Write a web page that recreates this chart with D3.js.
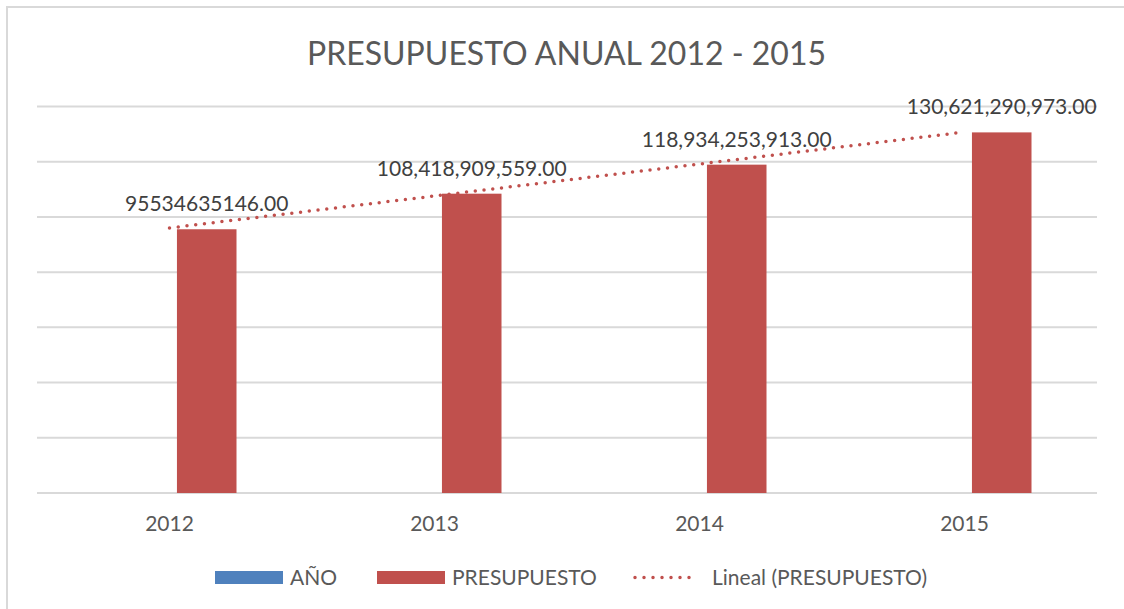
<!DOCTYPE html>
<html>
<head>
<meta charset="utf-8">
<script src="https://cdn.jsdelivr.net/npm/d3@7"></script>
<style>
  html, body { margin: 0; padding: 0; background: #fff; }
  svg { display: block; font-family: Lato, "Open Sans", sans-serif; }
</style>
</head>
<body>
<svg id="chart" width="1124" height="609"></svg>
<script>
// ---- data ----
const title = "PRESUPUESTO ANUAL 2012 - 2015";
const categories = ["2012", "2013", "2014", "2015"];
const seriesNames = ["AÑO", "PRESUPUESTO"];
const anoValues = [2012, 2013, 2014, 2015];
const presupuestoValues = [95534635146, 108418909559, 118934253913, 130621290973];
const presupuestoLabels = ["95534635146.00", "108,418,909,559.00", "118,934,253,913.00", "130,621,290,973.00"];
const yTicks = [0, 20e9, 40e9, 60e9, 80e9, 100e9, 120e9, 140e9];
const trendName = "Lineal (PRESUPUESTO)";

const colors = { "AÑO": "#4F81BD", "PRESUPUESTO": "#C0504D" };
const textColor = "#595959";
const gridColor = "#D9D9D9";

const svg = d3.select("#chart");

// chart border
svg.append("rect").attr("x", 7).attr("y", 7).attr("width", 1130).attr("height", 620)
  .attr("fill", "none").attr("stroke", gridColor).attr("stroke-width", 2);

const plot = { left: 37, right: 1097, top: 106.5, bottom: 493 };

const x0 = d3.scaleBand().domain(categories).range([plot.left, plot.right]).padding(0);
const x1 = d3.scaleBand().domain(seriesNames).range([-67, 67]).paddingInner(0.2);
const y = d3.scaleLinear().domain([0, 140e9]).range([plot.bottom, plot.top]);

// gridlines
svg.append("g").selectAll("line").data(yTicks).join("line")
  .attr("x1", plot.left).attr("x2", plot.right)
  .attr("y1", d => y(d)).attr("y2", d => y(d))
  .attr("stroke", gridColor).attr("stroke-width", 2);

// title
svg.append("text").attr("x", 566.5).attr("y", 65)
  .attr("text-anchor", "middle").attr("fill", textColor)
  .attr("font-size", 32).text(title);

// bars
const rows = categories.map((c, i) => ({ cat: c, "AÑO": anoValues[i], "PRESUPUESTO": presupuestoValues[i], label: presupuestoLabels[i] }));
const barG = svg.append("g");
seriesNames.forEach(s => {
  barG.selectAll(null).data(rows).join("rect")
    .attr("x", d => x0(d.cat) + x0.bandwidth() / 2 + x1(s))
    .attr("width", x1.bandwidth())
    .attr("y", d => y(d[s]))
    .attr("height", d => y(0) - y(d[s]))
    .attr("fill", colors[s]);
});

// trendline (linear regression of PRESUPUESTO over category index)
const n = presupuestoValues.length;
const xs = d3.range(1, n + 1);
const mx = d3.mean(xs), my = d3.mean(presupuestoValues);
const slope = d3.sum(xs.map((xv, i) => (xv - mx) * (presupuestoValues[i] - my))) / d3.sum(xs.map(xv => (xv - mx) ** 2));
const intercept = my - slope * mx;
const trendPts = [1, n].map(xv => [x0(categories[xv - 1]) + x0.bandwidth() / 2, y(intercept + slope * xv)]);
svg.append("path").attr("d", d3.line()(trendPts))
  .attr("fill", "none").attr("stroke", colors["PRESUPUESTO"])
  .attr("stroke-width", 3.5).attr("stroke-linecap", "round")
  .attr("stroke-dasharray", "0 8.8");

// data labels
svg.append("g").selectAll("text").data(rows).join("text")
  .attr("x", d => x0(d.cat) + x0.bandwidth() / 2 + x1("PRESUPUESTO") + x1.bandwidth() / 2)
  .attr("y", d => y(d["PRESUPUESTO"]) - 18)
  .attr("text-anchor", "middle").attr("fill", "#404040")
  .attr("font-size", 21).text(d => d.label);

// x axis labels
svg.append("g").selectAll("text").data(categories).join("text")
  .attr("x", d => x0(d) + x0.bandwidth() / 2)
  .attr("y", 531)
  .attr("text-anchor", "middle").attr("fill", textColor)
  .attr("font-size", 21).text(d => d);

// legend
const lg = svg.append("g");
const legendItems = [
  { name: "AÑO", type: "rect", x: 215 },
  { name: "PRESUPUESTO", type: "rect", x: 377 },
  { name: trendName, type: "line", x: 635 }
];
legendItems.forEach(it => {
  if (it.type === "rect") {
    lg.append("rect").attr("x", it.x).attr("y", 571).attr("width", 68).attr("height", 13)
      .attr("fill", colors[it.name]);
    lg.append("text").attr("x", it.x + 75).attr("y", 584.5).attr("fill", textColor)
      .attr("font-size", 21).text(it.name);
  } else {
    lg.append("line").attr("x1", it.x).attr("x2", it.x + 63).attr("y1", 577.5).attr("y2", 577.5)
      .attr("stroke", colors["PRESUPUESTO"]).attr("stroke-width", 3.5)
      .attr("stroke-linecap", "round").attr("stroke-dasharray", "0 9");
    lg.append("text").attr("x", it.x + 77).attr("y", 584.5).attr("fill", textColor)
      .attr("font-size", 21).text(it.name);
  }
});
</script>
</body>
</html>
